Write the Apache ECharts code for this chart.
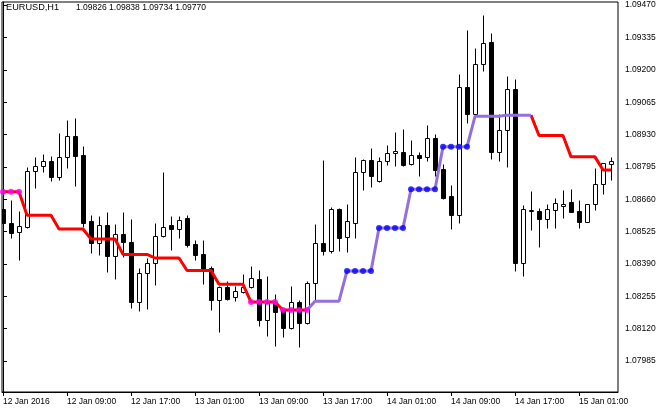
<!DOCTYPE html>
<html>
<head>
<meta charset="utf-8">
<script src="https://cdn.jsdelivr.net/npm/echarts@6/dist/echarts.min.js"></script>
<style>
html,body{margin:0;padding:0;background:#fff;}
#chart{width:670px;height:412px;}
</style>
</head>
<body>
<div id="chart"></div>
<script>
// ---- data (hourly bars, index 0 = first visible bar) ----
var headerSymbol = 'EURUSD,H1';
var headerValues = ['1.09826', '1.09838', '1.09734', '1.09770'];

var opens = [1.08619,1.08560,1.08523,1.08544,1.08778,1.08798,1.08819,1.08753,1.08836,1.08924,
1.08844,1.08569,1.08477,1.08552,1.08423,1.08515,1.08481,1.08231,1.08352,1.08394,
1.08506,1.08552,1.08536,1.08581,1.08473,1.08431,1.08373,1.08239,1.08294,1.08252,
1.08273,1.08294,1.08327,1.08156,1.08231,1.08198,1.08123,1.08231,1.08143,1.08310,
1.08477,1.08444,1.08619,1.08502,1.08560,1.08773,1.08823,1.08736,1.08819,1.08853,
1.08857,1.08807,1.08844,1.08836,1.08915,1.08786,1.08673,1.08594,1.09128,1.09015,
1.09224,1.09316,1.08857,1.08949,1.09120,1.08394,1.08611,1.08611,1.08577,1.08615,
1.08631,1.08648,1.08611,1.08565,1.08640,1.08723,1.08807];

var highs = [1.08631,1.08656,1.08611,1.08794,1.08836,1.08848,1.08840,1.08936,1.08990,1.08999,
1.08882,1.08594,1.08590,1.08606,1.08556,1.08606,1.08577,1.08373,1.08415,1.08560,
1.08773,1.08590,1.08590,1.08594,1.08490,1.08490,1.08381,1.08298,1.08319,1.08298,
1.08348,1.08381,1.08365,1.08339,1.08264,1.08206,1.08298,1.08239,1.08319,1.08556,
1.08823,1.08627,1.08623,1.08640,1.08836,1.08828,1.08873,1.08836,1.08886,1.08940,
1.08953,1.08907,1.08857,1.08969,1.08932,1.08807,1.08719,1.09182,1.09366,1.09291,
1.09428,1.09353,1.09015,1.09174,1.09161,1.08636,1.08694,1.08623,1.08640,1.08665,
1.08698,1.08702,1.08656,1.08640,1.08790,1.08811,1.08836];

var lows = [1.08548,1.08498,1.08406,1.08540,1.08707,1.08773,1.08736,1.08740,1.08790,1.08715,
1.08544,1.08435,1.08427,1.08356,1.08327,1.08419,1.08206,1.08193,1.08202,1.08302,
1.08502,1.08448,1.08498,1.08460,1.08406,1.08306,1.08198,1.08106,1.08239,1.08235,
1.08269,1.08289,1.08131,1.08089,1.08047,1.08085,1.08118,1.08043,1.08139,1.08239,
1.08427,1.08435,1.08444,1.08440,1.08498,1.08698,1.08711,1.08732,1.08803,1.08798,
1.08798,1.08803,1.08757,1.08819,1.08757,1.08661,1.08536,1.08560,1.08978,1.09003,
1.09195,1.08828,1.08819,1.08794,1.08360,1.08339,1.08531,1.08460,1.08540,1.08540,
1.08581,1.08606,1.08540,1.08565,1.08615,1.08682,1.08740];

var closes = [1.08560,1.08519,1.08548,1.08778,1.08798,1.08819,1.08753,1.08836,1.08924,1.08840,
1.08560,1.08477,1.08552,1.08423,1.08515,1.08481,1.08231,1.08352,1.08394,1.08506,
1.08544,1.08536,1.08573,1.08469,1.08427,1.08365,1.08239,1.08294,1.08244,1.08277,
1.08294,1.08331,1.08156,1.08227,1.08189,1.08123,1.08231,1.08143,1.08310,1.08477,
1.08444,1.08619,1.08498,1.08569,1.08773,1.08823,1.08757,1.08819,1.08853,1.08861,
1.08803,1.08844,1.08832,1.08915,1.08782,1.08665,1.08594,1.09128,1.09015,1.09224,
1.09312,1.08857,1.08949,1.09120,1.08394,1.08619,1.08615,1.08577,1.08619,1.08644,
1.08640,1.08606,1.08565,1.08640,1.08723,1.08811,1.08819];

// step indicator level per bar
var stepLevel = [1.08691,1.08691,1.08691,
1.08593,1.08593,1.08593,1.08593,
1.08536,1.08536,1.08536,1.08536,
1.08494,1.08494,1.08494,1.08494,
1.08430,1.08430,1.08430,1.08430,
1.08415,1.08415,1.08415,1.08415,
1.08363,1.08363,1.08363,1.08363,
1.08305,1.08305,1.08305,1.08305,
1.08231,1.08231,1.08231,1.08231,
1.08198,1.08198,1.08198,1.08198,
1.08235,1.08235,1.08235,1.08235,
1.08361,1.08361,1.08361,1.08361,
1.08540,1.08540,1.08540,1.08540,
1.08702,1.08702,1.08702,1.08702,
1.08879,1.08879,1.08879,1.08879,
1.09006,1.09006,1.09006,1.09006,
1.09011,1.09011,1.09011,1.09011,
1.08926,1.08926,1.08926,1.08926,
1.08837,1.08837,1.08837,1.08837,
1.08782,1.08782];

// trend direction per bar: 'd' = down (red), 'u' = up (purple)
var trendDir = ['d','d','d','d','d','d','d','d','d','d',
'd','d','d','d','d','d','d','d','d','d',
'd','d','d','d','d','d','d','d','d','d',
'd','d','d','d','d','d','d','d','d','u',
'u','u','u','u','u','u','u','u','u','u',
'u','u','u','u','u','u','u','u','u','u',
'u','u','u','u','u','u','u','d','d','d',
'd','d','d','d','d','d','d'];

// signal dots per bar
var dotFlag = [1,1,1,0,0,0,0,0,0,0,
0,0,0,0,0,0,0,0,0,0,
0,0,0,0,0,0,0,0,0,0,
0,1,1,1,1,1,1,1,1,0,
0,0,0,1,1,1,1,1,1,1,
1,1,1,1,1,1,1,1,1,0,
0,0,0,0,0,0,0,0,0,0,
0,0,0,0,0,0,0];

var xTickIdx = [0,8,16,24,32,40,48,56,64,72];
var xTickLabels = ['12 Jan 2016','12 Jan 09:00','12 Jan 17:00','13 Jan 01:00','13 Jan 09:00',
'13 Jan 17:00','14 Jan 01:00','14 Jan 09:00','14 Jan 17:00','15 Jan 01:00'];
var yTicks = [1.07985,1.08120,1.08255,1.08390,1.08525,1.08660,1.08795,1.08930,1.09065,1.09200,1.09335,1.09470];

// ---- build series data ----
var candleData = [], redData = [], purpleData = [], magentaDots = [], blueDots = [];
for (var i = 0; i < opens.length; i++) {
  candleData.push([i, opens[i], highs[i], lows[i], closes[i]]);
  var inRed = trendDir[i] === 'd' || trendDir[i+1] === 'd';
  var inPur = trendDir[i] === 'u' || trendDir[i+1] === 'u';
  redData.push([i, inRed ? stepLevel[i] : '-']);
  purpleData.push([i, inPur ? stepLevel[i] : '-']);
  if (dotFlag[i]) {
    if (trendDir[i] === 'd') magentaDots.push([i, stepLevel[i]]);
    else blueDots.push([i, stepLevel[i]]);
  }
}
var labelMap = {};
xTickIdx.forEach(function (v, k) { labelMap[v] = xTickLabels[k]; });

var FONT = 'Liberation Sans';

function renderCandle(params, api) {
  var i = api.value(0), o = api.value(1), h = api.value(2), l = api.value(3), c = api.value(4);
  var pO = api.coord([i, o]), pC = api.coord([i, c]), pH = api.coord([i, h]), pL = api.coord([i, l]);
  var cx = Math.round(pO[0]) + 0.5;
  var top = Math.round(Math.min(pO[1], pC[1])) + 0.5;
  var bot = Math.round(Math.max(pO[1], pC[1])) + 0.5;
  var bull = c >= o;
  return {
    type: 'group',
    children: [
      { type: 'line', shape: { x1: cx, y1: Math.round(pH[1]) + 0.5, x2: cx, y2: Math.round(pL[1]) + 0.5 },
        style: { stroke: '#000', lineWidth: 1 } },
      { type: 'rect', shape: { x: cx - 2, y: top, width: 4, height: Math.max(bot - top, 0) },
        style: { fill: bull ? '#fff' : '#000', stroke: '#000', lineWidth: 1 } }
    ]
  };
}

var chart = echarts.init(document.getElementById('chart'), null, { renderer: 'canvas' });
chart.setOption({
  animation: false,
  backgroundColor: '#fff',
  textStyle: { fontFamily: FONT },
  grid: { left: 2, top: 2, right: 52, bottom: 20, show: true, borderColor: '#000', borderWidth: 1, backgroundColor: 'transparent' },
  graphic: [
    { type: 'text', left: 6, top: 3, z: 100,
      style: { text: headerSymbol, fill: '#000', font: '9.2px "Liberation Sans"' } },
    { type: 'text', left: 76, top: 3, z: 100,
      style: { text: headerValues.join(' '), fill: '#000', font: '8.5px "Liberation Sans"' } }
  ],
  xAxis: {
    type: 'value', min: -0.125, max: 76.875,
    axisLine: { show: true, lineStyle: { color: '#000', width: 1 } },
    axisTick: { show: true, length: 4, lineStyle: { color: '#000' }, customValues: xTickIdx },
    axisLabel: { show: true, customValues: xTickIdx, align: 'left', margin: 5, color: '#000',
      fontSize: 8.5, fontFamily: FONT,
      formatter: function (v) { return labelMap[Math.round(v)] || ''; } },
    splitLine: { show: false }
  },
  yAxis: {
    type: 'value', position: 'right', min: 1.07856, max: 1.09483, scale: true,
    axisLine: { show: true, lineStyle: { color: '#000', width: 1 } },
    axisTick: { show: true, length: 4, lineStyle: { color: '#000' }, customValues: yTicks },
    axisLabel: { show: true, customValues: yTicks, margin: 7, color: '#000', fontSize: 8.5, fontFamily: FONT,
      formatter: function (v) { return v.toFixed(5); } },
    splitLine: { show: false }
  },
  series: [
    { type: 'custom', renderItem: renderCandle, data: candleData, z: 2,
      encode: { x: 0, y: [1, 2, 3, 4] }, clip: true },
    { type: 'line', data: redData, z: 3, symbol: 'none', connectNulls: false,
      lineStyle: { color: '#ff0000', width: 3 } },
    { type: 'line', data: purpleData, z: 3, symbol: 'none', connectNulls: false,
      lineStyle: { color: '#9370db', width: 3 } },
    { type: 'scatter', data: magentaDots, z: 4, symbolSize: 6, itemStyle: { color: '#ff00ff' } },
    { type: 'scatter', data: blueDots, z: 4, symbolSize: 6, itemStyle: { color: '#0000ff' } }
  ]
});
</script>
</body>
</html>
